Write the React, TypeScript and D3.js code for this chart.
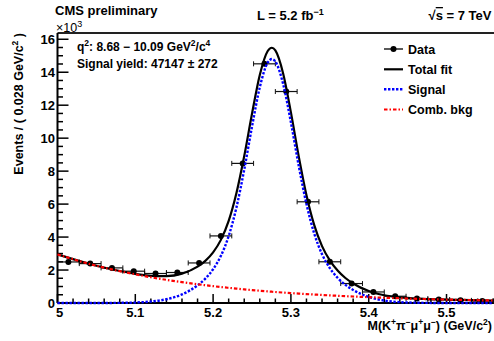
import React from "react";
import * as d3 from "d3";

// Data (units of 10^3 events per 0.028 GeV/c^2 bin)
const binCenters = [5.014, 5.042, 5.070, 5.098, 5.126, 5.154, 5.182, 5.210, 5.238, 5.266,
  5.294, 5.322, 5.350, 5.378, 5.406, 5.434, 5.462, 5.490, 5.518, 5.546];
const dataValues = [2.49, 2.39, 2.13, 1.93, 1.79, 1.85, 2.43, 4.07, 8.47, 14.51,
  12.83, 6.14, 2.50, 1.18, 0.67, 0.41, 0.27, 0.21, 0.16, 0.12];
const binHalfWidth = 0.014;

// Fit curves
const curveMasses = [5.00, 5.05, 5.08, 5.10, 5.12, 5.14, 5.16, 5.18, 5.19, 5.20, 5.21, 5.22, 5.23,
  5.24, 5.25, 5.26, 5.27, 5.2755, 5.28, 5.29, 5.30, 5.31, 5.32, 5.33, 5.34, 5.35, 5.36, 5.37,
  5.38, 5.40, 5.42, 5.44, 5.47, 5.50, 5.56];
const signalCurve = [0.0, 0.0, 0.01, 0.03, 0.09, 0.23, 0.52, 1.07, 1.48, 2.05, 2.86, 4.06, 5.80,
  8.09, 10.70, 13.09, 14.57, 14.80, 14.65, 13.29, 10.96, 8.34, 6.00, 4.21, 2.96, 2.12, 1.53, 1.10,
  0.79, 0.37, 0.15, 0.05, 0.01, 0.0, 0.0];
const bkgCurve = [2.95, 2.26, 1.93, 1.74, 1.56, 1.405, 1.264, 1.136, 1.078, 1.022, 0.969, 0.919, 0.872,
  0.827, 0.784, 0.744, 0.705, 0.685, 0.669, 0.634, 0.602, 0.571, 0.541, 0.513, 0.487, 0.462, 0.438, 0.415,
  0.394, 0.354, 0.319, 0.287, 0.244, 0.209, 0.152];

const yTickLabels = ["0", "2", "4", "6", "8", "10", "12", "14", "16"];
const xTickLabels = ["5", "5.1", "5.2", "5.3", "5.4", "5.5"];

const W = 494, H = 341;
const FONT = "'Liberation Sans', Arial, Helvetica, sans-serif";

export default function App() {
  const x = d3.scaleLinear().domain([5.0, 5.56]).range([57.5, 493.2]);
  const y = d3.scaleLinear().domain([0, 16.38]).range([303, 33]);
  const x0 = 57.5, yb = 303, yt = 33;

  const line = d3.line<[number, number]>()
    .x(d => x(d[0])).y(d => y(d[1])).curve(d3.curveMonotoneX);
  const sigPts = curveMasses.map((m, i) => [m, signalCurve[i]] as [number, number]);
  const bkgPts = curveMasses.map((m, i) => [m, bkgCurve[i]] as [number, number]);
  const totPts = curveMasses.map((m, i) => [m, signalCurve[i] + bkgCurve[i]] as [number, number]);

  const yTicks = d3.range(0, 33).map(i => i * 0.5).filter(v => v <= 16.38);
  const xTicks = d3.range(0, 29).map(i => 5 + i * 0.02);

  const tickFont = { fontFamily: FONT, fontWeight: 700, fontSize: 13 } as const;
  const textFont = { fontFamily: FONT, fontWeight: 700, fontSize: 12.5 } as const;

  return (
    <svg width={W} height={H} style={{ position: "absolute", left: 0, top: 0, background: "#fff" }}>
      <rect x={0} y={0} width={W} height={H} fill="#fff" />
      {/* ticks */}
      {yTicks.map((v, i) => {
        const major = i % 4 === 0;
        return <line key={"yt" + i} x1={x0} x2={x0 + (major ? 11 : 5.5)} y1={y(v)} y2={y(v)} stroke="#000" strokeWidth={1.5} />;
      })}
      {xTicks.map((v, i) => {
        const major = i % 5 === 0;
        return <line key={"xt" + i} x1={x(v)} x2={x(v)} y1={yb} y2={yb - (major ? 9 : 4.5)} stroke="#000" strokeWidth={1.5} />;
      })}
      {/* frame */}
      <line x1={x0} x2={W} y1={yt} y2={yt} stroke="#222" strokeWidth={2} />
      <line x1={x0} x2={W} y1={yb} y2={yb} stroke="#000" strokeWidth={2} />
      <line x1={x0} x2={x0} y1={yt} y2={yb} stroke="#000" strokeWidth={2} />

      {/* tick labels */}
      {yTickLabels.map((t, i) => (
        <text key={"yl" + i} x={55} y={y(i * 2) + 4.6} textAnchor="end" style={tickFont}>{t}</text>
      ))}
      {xTickLabels.map((t, i) => (
        <text key={"xl" + i} x={x(5 + i * 0.1) + (i === 0 ? 2 : 0)} y={317} textAnchor="middle" style={tickFont}>{t}</text>
      ))}

      {/* data */}
      {binCenters.map((c, i) => (
        <g key={"d" + i}>
          <line x1={x(c - binHalfWidth)} x2={x(c + binHalfWidth)} y1={y(dataValues[i])} y2={y(dataValues[i])} stroke="#111" strokeWidth={1.2} />
          <line x1={x(c - binHalfWidth)} x2={x(c - binHalfWidth)} y1={y(dataValues[i]) - 2.5} y2={y(dataValues[i]) + 2.5} stroke="#111" strokeWidth={1} />
          <line x1={x(c + binHalfWidth)} x2={x(c + binHalfWidth)} y1={y(dataValues[i]) - 2.5} y2={y(dataValues[i]) + 2.5} stroke="#111" strokeWidth={1} />
          <circle cx={x(c)} cy={y(dataValues[i])} r={3} fill="#000" />
        </g>
      ))}

      {/* curves */}
      <path d={line(totPts) || ""} fill="none" stroke="#000" strokeWidth={2.2} />
      <path d={line(sigPts) || ""} fill="none" stroke="#0000ff" strokeWidth={2.4} strokeDasharray="2.4 1.6" />
      <path d={line(bkgPts) || ""} fill="none" stroke="#ff0000" strokeWidth={2.2} strokeDasharray="3.5 2 1.5 2" />

      {/* header */}
      <text x={55} y={15} style={{ ...textFont, fontSize: 13 }}>CMS preliminary</text>
      <text x={257} y={20} style={{ ...textFont, fontSize: 13 }}>
        L = 5.2 fb<tspan dy={-5} fontSize={9}>−1</tspan>
      </text>
      <text x={491.5} y={20} textAnchor="end" style={{ ...textFont, fontSize: 13 }}>
        √<tspan style={{ textDecoration: "overline" }}>s</tspan> = 7 TeV
      </text>
      <text x={56} y={32} style={{ fontFamily: FONT, fontSize: 12.5 }}>
        ×10<tspan dy={-5} fontSize={9}>3</tspan>
      </text>

      {/* annotations */}
      <text x={77} y={50.5} style={{ ...textFont, fontSize: 12 }}>
        q<tspan dy={-5} fontSize={8.5}>2</tspan><tspan dy={5}>: 8.68 − 10.09 GeV</tspan><tspan dy={-5} fontSize={8.5}>2</tspan><tspan dy={5}>/c</tspan><tspan dy={-5} fontSize={8.5}>4</tspan>
      </text>
      <text x={77} y={68.3} style={{ ...textFont, fontSize: 12 }}>Signal yield: 47147 ± 272</text>

      {/* legend */}
      <line x1={384} x2={403} y1={49} y2={49} stroke="#000" strokeWidth={1.3} />
      <circle cx={393.5} cy={49} r={3} fill="#000" />
      <text x={408} y={53.5} style={textFont}>Data</text>
      <line x1={384} x2={403} y1={69.3} y2={69.3} stroke="#000" strokeWidth={2.2} />
      <text x={408} y={74} style={textFont}>Total fit</text>
      <line x1={384} x2={403} y1={89.3} y2={89.3} stroke="#0000ff" strokeWidth={2.4} strokeDasharray="2.4 1.6" />
      <text x={408} y={94} style={textFont}>Signal</text>
      <line x1={384} x2={403} y1={109.5} y2={109.5} stroke="#ff0000" strokeWidth={2.2} strokeDasharray="3.5 2 1.5 2" />
      <text x={408} y={114} style={textFont}>Comb. bkg</text>

      {/* axis titles */}
      <text transform="translate(22.5,33) rotate(-90)" textAnchor="end" style={textFont}>
        Events / ( 0.028 GeV/c<tspan dy={-5} fontSize={8.5}>2</tspan><tspan dy={5}> )</tspan>
      </text>
      <text x={492} y={330} textAnchor="end" style={textFont}>
        M(K<tspan dy={-5} fontSize={8.5}>+</tspan><tspan dy={5}>π</tspan><tspan dy={-5} fontSize={8.5}>−</tspan><tspan dy={5}>μ</tspan><tspan dy={-5} fontSize={8.5}>+</tspan><tspan dy={5}>μ</tspan><tspan dy={-5} fontSize={8.5}>−</tspan><tspan dy={5}>) (GeV/c</tspan><tspan dy={-5} fontSize={8.5}>2</tspan><tspan dy={5}>)</tspan>
      </text>
    </svg>
  );
}
